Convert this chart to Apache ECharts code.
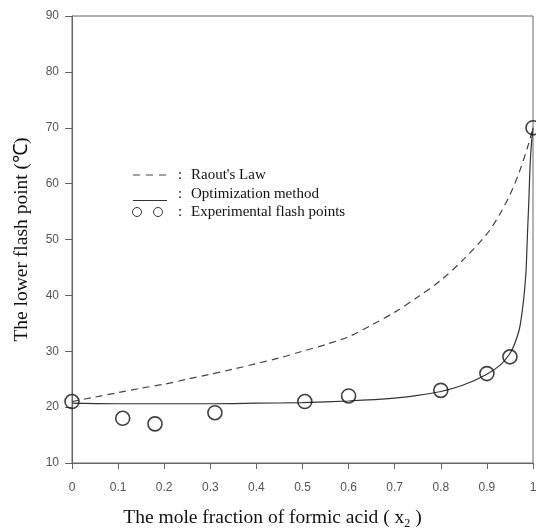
<!DOCTYPE html>
<html>
<head>
<meta charset="utf-8">
<script src="https://cdn.jsdelivr.net/npm/echarts@6/dist/echarts.min.js"></script>
<style>html,body{margin:0;padding:0;background:#fff;}#c{width:536px;height:530px;}</style>
</head>
<body>
<div id="c"></div>
<script>
// Experimental flash points
var expX = [0, 0.11, 0.18, 0.31, 0.505, 0.6, 0.8, 0.9, 0.95, 1.0];
var expY = [21, 18, 17, 19, 21, 22, 23, 26, 29, 70];
// Raoult's law curve (dashed)
var raoultX = [0, 0.05, 0.1, 0.15, 0.2, 0.25, 0.3, 0.35, 0.4, 0.45, 0.5, 0.55, 0.6, 0.65, 0.7, 0.75, 0.8, 0.85, 0.9, 0.93, 0.95, 0.97, 0.99, 1.0];
var raoultY = [21, 21.8, 22.6, 23.4, 24.1, 25, 25.9, 26.8, 27.8, 28.8, 30, 31.2, 32.6, 34.7, 37, 39.7, 42.7, 46.5, 51, 54.8, 58, 62, 67, 70];
// Optimization method curve (solid)
var optX = [0, 0.1, 0.2, 0.3, 0.4, 0.5, 0.6, 0.7, 0.75, 0.8, 0.85, 0.9, 0.93, 0.95, 0.96, 0.97, 0.975, 0.98, 0.985, 0.988, 0.991, 0.9935, 0.996, 0.998, 1.0];
var optY = [20.7, 20.6, 20.6, 20.6, 20.7, 20.8, 21.1, 21.6, 22.1, 22.8, 24.0, 25.9, 27.6, 29.6, 31.3, 33.8, 36.2, 39.5, 44.5, 51, 57, 63, 66.5, 68.5, 70];
var xTicks = ['0', '0.1', '0.2', '0.3', '0.4', '0.5', '0.6', '0.7', '0.8', '0.9', '1'];
var legendLabels = ["Raout's Law", 'Optimization method', 'Experimental flash points'];

function zip(a, b) { return a.map(function (v, i) { return [v, b[i]]; }); }

var chart = echarts.init(document.getElementById('c'), null, {renderer: 'canvas'});
var axisColor = '#666';
var labelStyle = {color: '#555', fontFamily: 'Liberation Sans, Arial, sans-serif', fontSize: 12};
var serif = 'Liberation Serif, Times New Roman, serif';
var legFont = '15px ' + serif;

function legText(y, txt, x) {
  return {type: 'text', style: {x: x, y: y, text: txt, font: legFont, fill: '#111', verticalAlign: 'middle', align: 'left'}};
}

chart.setOption({
  animation: false,
  backgroundColor: '#fff',
  grid: {left: 72, top: 16, width: 461, height: 447, outerBoundsMode: 'none', containLabel: false,
         show: true, borderColor: axisColor, borderWidth: 1, backgroundColor: 'transparent'},
  xAxis: {
    type: 'value', min: 0, max: 1, interval: 0.1,
    name: 'The mole fraction of formic acid ( x{s|2} )',
    nameLocation: 'middle', nameGap: 43,
    nameTextStyle: {fontFamily: serif, fontSize: 19.5, color: '#111', padding: [0, 60, 0, 0],
      rich: {s: {fontFamily: serif, fontSize: 12, color: '#111', verticalAlign: 'bottom', padding: [12, 0, 0, 0]}}},
    axisLine: {lineStyle: {color: axisColor, width: 1}},
    axisTick: {show: true, inside: false, length: 6, lineStyle: {color: axisColor}},
    axisLabel: Object.assign({margin: 19, formatter: function (v) { return xTicks[Math.round(v * 10)]; }}, labelStyle),
    splitLine: {show: false}
  },
  yAxis: {
    type: 'value', min: 10, max: 90, interval: 10,
    name: 'The lower flash point (\u2103)',
    nameLocation: 'middle', nameGap: 40,
    nameTextStyle: {fontFamily: serif, fontSize: 19.5, color: '#111'},
    axisLine: {show: true, lineStyle: {color: axisColor, width: 1}},
    axisTick: {show: true, inside: false, length: 7, lineStyle: {color: axisColor}},
    axisLabel: Object.assign({margin: 13}, labelStyle),
    splitLine: {show: false}
  },
  graphic: [
    {type: 'line', shape: {x1: 133, y1: 175, x2: 167, y2: 175}, style: {stroke: '#444', lineWidth: 1.2, lineDash: [7, 6]}},
    legText(175, ':', 178),
    legText(175, legendLabels[0], 191),
    {type: 'line', shape: {x1: 133, y1: 200.5, x2: 167, y2: 200.5}, style: {stroke: '#333', lineWidth: 1.2}},
    legText(194, ':', 178),
    legText(194, legendLabels[1], 191),
    {type: 'circle', shape: {cx: 137, cy: 212, r: 4.5}, style: {fill: 'none', stroke: '#333', lineWidth: 1}},
    {type: 'circle', shape: {cx: 158, cy: 212, r: 4.5}, style: {fill: 'none', stroke: '#333', lineWidth: 1}},
    legText(212, ':', 178),
    legText(212, legendLabels[2], 191)
  ],
  series: [
    {name: legendLabels[0], type: 'line', data: zip(raoultX, raoultY), smooth: 0.3, showSymbol: false,
     lineStyle: {color: '#444', width: 1.2, type: [7, 5]}, z: 2},
    {name: legendLabels[1], type: 'line', data: zip(optX, optY), smooth: 0.2, showSymbol: false,
     lineStyle: {color: '#333', width: 1.2}, z: 3},
    {name: legendLabels[2], type: 'scatter', data: zip(expX, expY), symbol: 'circle', symbolSize: 14,
     itemStyle: {color: 'rgba(255,255,255,0)', borderColor: '#111', borderWidth: 1.6}, z: 4, clip: false}
  ]
});
</script>
</body>
</html>
